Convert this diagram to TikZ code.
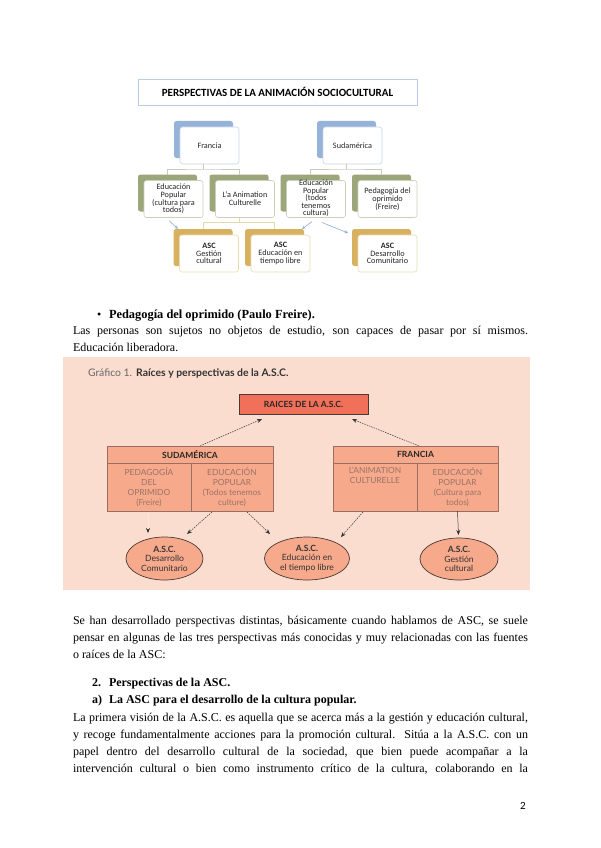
\documentclass[tikz,border=0pt]{standalone}
\usepackage{fontspec}
\setmainfont{Liberation Serif}
\newfontfamily\calfont{Carlito}
\newfontfamily\gillfont{Lato}
\usetikzlibrary{arrows.meta,shapes.geometric,calc}
\definecolor{bluebk}{HTML}{95B3D7}
\definecolor{bluebd}{HTML}{C6D5E9}
\definecolor{greenbk}{HTML}{9DA57B}
\definecolor{greenbd}{HTML}{CDD0B8}
\definecolor{goldbk}{HTML}{D8B160}
\definecolor{goldbd}{HTML}{EADBB0}
\definecolor{titlebd}{HTML}{B9CDE5}
\definecolor{connc}{HTML}{C9CCB5}
\definecolor{goldline}{HTML}{E8D9A8}
\definecolor{arrblue}{HTML}{8EAEDB}
\definecolor{pinkbg}{HTML}{FBDDD0}
\definecolor{salmon}{HTML}{F6A98B}
\definecolor{raicesc}{HTML}{F0705A}
\definecolor{celltext}{HTML}{9A7468}
\definecolor{darkline}{HTML}{4A3A35}
\definecolor{tblline}{HTML}{9A6E62}
\newcommand\jline[1]{\makebox[455pt][s]{#1}}
\begin{document}
\begin{tikzpicture}[x=1pt,y=-1pt,
  every node/.style={inner sep=0pt,outer sep=0pt},
  bk/.style={rounded corners=2.5pt,minimum width=59pt,minimum height=37pt},
  fr/.style={fill=white,rounded corners=2.5pt,line width=0.6pt,minimum width=59pt,minimum height=37pt,align=center,font=\calfont\fontsize{8.2}{7.8}\selectfont,text=black!85},
  frtxt/.style={align=center,font=\calfont\fontsize{8.2}{7.6}\selectfont,text=black!85},
  conn/.style={draw=connc,line width=0.7pt},
  barr/.style={draw=arrblue,line width=0.6pt,-{Stealth[length=3.5pt,width=3pt]}},
  tbl/.style={draw=tblline,fill=salmon,line width=0.6pt},
  hdr/.style={font=\gillfont\bfseries\fontsize{8.5}{9}\selectfont,text=black!85},
  celltxt/.style={align=center,text=celltext,font=\gillfont\fontsize{8.4}{10}\selectfont},
  ell/.style={ellipse,draw=darkline,fill=salmon,line width=0.7pt,minimum width=77pt,minimum height=43pt,align=center,font=\gillfont\fontsize{8.6}{9.5}\selectfont,text=black!80},
  darr/.style={draw=black!80,line width=0.5pt,dashed,dash pattern=on 1.5pt off 1pt,-{Stealth[length=5pt,width=4pt]}},
  sarr/.style={draw=black!80,line width=0.5pt,-{Stealth[length=5pt,width=4pt]}},
  body/.style={anchor=base west,font=\fontsize{12}{14}\selectfont}]
\useasboundingbox (0,0) rectangle (600,848);
\fill[white] (0,0) rectangle (600,848);

% ===== Top diagram =====
\node[draw=titlebd,line width=0.7pt,minimum width=279pt,minimum height=26pt,font=\calfont\bfseries\fontsize{11}{12}\selectfont] (title) at (277.5,92) {PERSPECTIVAS DE LA ANIMACIÓN SOCIOCULTURAL};

\node[bk,fill=bluebk] (fraB) at (203.5,139.5) {};
\node[bk,fill=bluebk] (sudB) at (346.5,139.5) {};
\node[bk,fill=greenbk] (ep1B) at (167.5,193) {};
\node[bk,fill=greenbk] (laB) at (239,193) {};
\node[bk,fill=greenbk] (ep2B) at (310,193) {};
\node[bk,fill=greenbk] (pedB) at (381.5,193) {};
\node[bk,fill=goldbk] (gsB) at (203,247.5) {};
\node[bk,fill=goldbk] (tlB) at (274.5,247.5) {};
\node[bk,fill=goldbk] (dcB) at (381.5,247.5) {};

\node[fr,draw=bluebd] (fra) at (209.5,145.5) {Francia};
\node[fr,draw=bluebd] (sud) at (352.5,145.5) {Sudamérica};
\node[fr,draw=greenbd] (ep1) at (173.5,199) {Educación\\Popular\\(cultura para\\todos)};
\node[fr,draw=greenbd] (la) at (245,199) {L’a Animation\\Culturelle};
\node[fr,draw=greenbd] (ep2) at (316,199) {};
\node[frtxt] (ep2t) at ($(ep2.center)+(0,-0.5)$) {Educación\\Popular\\(todos\\tenemos\\cultura)};
\node[fr,draw=greenbd] (ped) at (387.5,199) {Pedagogía del\\oprimido\\(Freire)};
\node[fr,draw=goldbd] (gs) at (209,253.5) {\textbf{ASC}\\Gestión\\cultural};
\node[fr,draw=goldbd] (tl) at (280.5,253.5) {\textbf{ASC}\\Educación en\\tiempo libre};
\node[fr,draw=goldbd] (dc) at (387.5,253.5) {\textbf{ASC}\\Desarrollo\\Comunitario};

\draw[conn] (fraB.south |- fra.south) -- ++(0,5) coordinate (fj);
\draw[conn] (ep1B.north) |- (fj) -| (laB.north);
\draw[conn] (sudB.south |- sud.south) -- ++(0,5) coordinate (sj);
\draw[conn] (ep2B.north) |- (sj) -| (pedB.north);
\draw[draw=goldline,line width=0.7pt] (laB.south |- la.south) -- ++(0,5) coordinate (lj);
\draw[draw=goldline,line width=0.7pt] (gsB.north) |- (lj) -| (tlB.north);

\draw[barr] ($(ep1.south)+(-4.5,3)$) -- ($(gsB.north west)+(4.5,0)$);
\draw[barr] ($(ep2.south)+(-4,4)$) -- ($(tlB.north east)+(-2,0)$);
\draw[barr] ($(ep2.south)+(6,5)$) -- ($(dcB.north west)+(-4,4)$);

% ===== Bullet text =====
\node[body] (b0) at (97,318) {•};
\node[body,font=\fontsize{12.4}{14}\selectfont] (b1) at (109,318) {\bfseries Pedagogía del oprimido (Paulo Freire).};
\node[body] (p1) at (73,334) {\jline{Las personas son sujetos no objetos de estudio, son capaces de pasar por sí mismos.}};
\node[body] (p2) at (73,351) {Educación liberadora.};

% ===== Bottom diagram =====
\fill[pinkbg] (63,357) rectangle (530,590);
\node[anchor=base west,font=\gillfont\fontsize{10.4}{11}\selectfont] (gtitle) at (88,376.5) {{\color{black!60}Gráfico 1.}\hspace{4pt}{\bfseries\color{black!80}Raíces y perspectivas de la A.S.C.}};

\node[draw=darkline,fill=raicesc,line width=0.8pt,minimum width=129pt,minimum height=20pt,hdr] (raices) at (303.5,404) {RAICES DE LA A.S.C.};

\node[tbl,hdr,minimum width=166pt,minimum height=17pt] (sudh) at (190,454.5) {SUDAMÉRICA};
\node[tbl,minimum width=84pt,minimum height=48pt] (sudL) at (149,487) {};
\node[tbl,minimum width=82pt,minimum height=48pt] (sudR) at (232,487) {};
\node[tbl,hdr,minimum width=165pt,minimum height=17pt] (frah) at (415.5,454.5) {FRANCIA};
\node[tbl,minimum width=84pt,minimum height=48pt] (fraL) at (375,487) {};
\node[tbl,minimum width=81pt,minimum height=48pt] (fraR) at (457.5,487) {};

\node[celltxt,anchor=north] (sudLt) at ($(sudL.north)+(0,4.5)$) {PEDAGOGÍA\\DEL\\OPRIMIDO\\(Freire)};
\node[celltxt,anchor=north] (sudRt) at ($(sudR.north)+(0,4.5)$) {EDUCACIÓN\\POPULAR\\(Todos tenemos\\culture)};
\node[celltxt,anchor=north] (fraLt) at ($(fraL.north)+(0,4.5)$) {L’ANIMATION\\CULTURELLE};
\node[celltxt,anchor=north] (fraRt) at ($(fraR.north)+(0,4.5)$) {EDUCACIÓN\\POPULAR\\(Cultura para\\todos)};

\node[ell] (ellA) at (164.5,558.5) {\textbf{A.S.C.}\\Desarrollo\\Comunitario};
\node[ell,minimum width=85pt] (ellB) at (307,558.5) {\textbf{A.S.C.}\\Educación en\\el tiempo libre};
\node[ell,minimum width=78pt,minimum height=42pt] (ellC) at (459,559) {\textbf{A.S.C.}\\Gestión\\cultural};

\draw[darr] ($(sudh.north)+(10,0)$) -- ($(raices.south west)+(23,5)$);
\draw[darr] ($(frah.north)+(3.5,0)$) -- ($(raices.south east)+(-16,5)$);
\draw[draw=white!70!salmon,line width=0.6pt,-{Stealth[length=5pt,width=4pt,color=black!80,fill=black!80]}] ($(sudL.south)+(-1,2)$) -- ($(ellA.north)+(-16.5,-4)$);
\draw[darr] ($(sudR.south)+(-20,1)$) -- ($(ellA.north)+(22.5,-3)$);
\draw[darr] ($(sudR.south)+(15,1)$) -- ($(ellB.north)+(-37,-3)$);
\draw[darr] ($(fraL.south)+(-12,1)$) -- ($(ellB.north)+(34,0)$);
\draw[sarr] (fraR.south) -- ($(ellC.north)+(-0.5,-3)$);

% ===== Body text =====
\node[body] (q1) at (73,624) {\jline{Se han desarrollado perspectivas distintas, básicamente cuando hablamos de ASC, se suele}};
\node[body] (q2) at (73,641) {\jline{pensar en algunas de las tres perspectivas más conocidas y muy relacionadas con las fuentes}};
\node[body] (q3) at (73,658) {o raíces de la ASC:};
\node[body] (h1n) at (92,686) {\bfseries 2.};
\node[body] (h1) at (109,686) {\bfseries Perspectivas de la ASC.};
\node[body] (h2n) at (92,703) {\bfseries a)};
\node[body] (h2) at (109,703) {\bfseries La ASC para el desarrollo de la cultura popular.};
\node[body] (r1) at (73,721) {\jline{La primera visión de la A.S.C. es aquella que se acerca más a la gestión y educación cultural,}};
\node[body] (r2) at (73,738) {\jline{y recoge fundamentalmente acciones para la promoción cultural. Sitúa a la A.S.C. con un}};
\node[body] (r3) at (73,755) {\jline{papel dentro del desarrollo cultural de la sociedad, que bien puede acompañar a la}};
\node[body] (r4) at (73,772) {\jline{intervención cultural o bien como instrumento crítico de la cultura, colaborando en la}};
\node[anchor=base,font=\calfont\fontsize{11}{12}\selectfont] (pg) at (523,809) {2};
\end{tikzpicture}
\end{document}
